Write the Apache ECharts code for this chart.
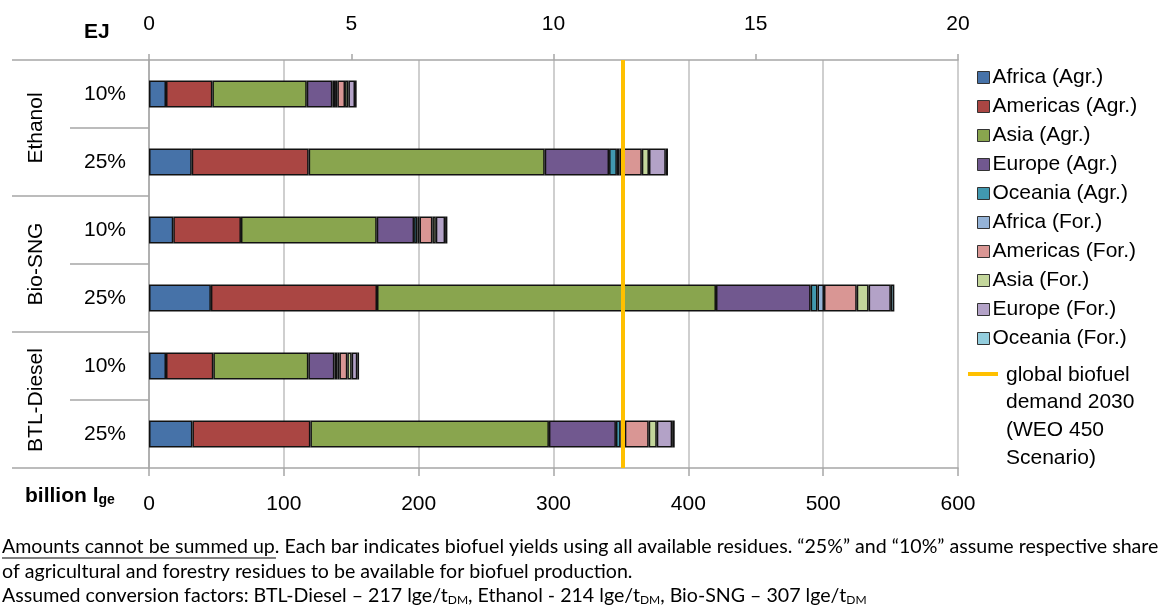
<!DOCTYPE html>
<html>
<head>
<meta charset="utf-8">
<script src="https://cdn.jsdelivr.net/npm/echarts@6/dist/echarts.min.js"></script>
<style>
html,body{margin:0;padding:0;background:#fff;}
#chart{width:1159px;height:608px;}
</style>
</head>
<body>
<div id="chart"></div>
<script>
// ---- Data ----
var groups = ['Ethanol', 'Bio-SNG', 'BTL-Diesel'];
var shares = ['10%', '25%'];
var barIds = ['Ethanol|10%', 'Ethanol|25%', 'Bio-SNG|10%', 'Bio-SNG|25%', 'BTL-Diesel|10%', 'BTL-Diesel|25%'];

var seriesNames = ['Africa (Agr.)', 'Americas (Agr.)', 'Asia (Agr.)', 'Europe (Agr.)', 'Oceania (Agr.)',
                   'Africa (For.)', 'Americas (For.)', 'Asia (For.)', 'Europe (For.)', 'Oceania (For.)'];

// billion litres gasoline equivalent, bars in order of barIds
var africaAgr   = [12.6, 31.7, 18.0, 45.9, 12.6, 32.2];
var americasAgr = [34.4, 86.7, 50.2, 123.2, 35.1, 87.5];
var asiaAgr     = [70.0, 175.1, 100.7, 251.4, 70.5, 176.9];
var europeAgr   = [19.0, 47.7, 27.7, 70.2, 19.3, 49.7];
var oceaniaAgr  = [2.0, 5.8, 2.5, 5.1, 2.2, 3.5];
var africaFor   = [1.7, 1.9, 1.5, 4.8, 1.5, 3.1];
var americasFor = [5.7, 16.6, 9.6, 24.3, 5.9, 17.7];
var asiaFor     = [2.5, 5.3, 2.5, 8.8, 3.2, 6.0];
var europeFor   = [4.9, 12.5, 6.9, 16.5, 4.2, 11.4];
var oceaniaFor  = [1.2, 1.6, 1.7, 2.6, 1.3, 1.9];

var demandName = 'global biofuel\ndemand 2030\n(WEO 450\nScenario)';
var demand2030 = 351;

var bottomTicks = [0, 100, 200, 300, 400, 500, 600];
var topTicksEJ = [0, 5, 10, 15, 20];

// ---- Styles ----
var colors = ['#4672A8', '#AA4643', '#89A54E', '#71588F', '#4198AF',
              '#95B3D7', '#D99694', '#C3D69B', '#B3A2C7', '#93CDDD'];
var seriesData = [africaAgr, americasAgr, asiaAgr, europeAgr, oceaniaAgr,
                  africaFor, americasFor, asiaFor, europeFor, oceaniaFor];
var FONT = "'Liberation Sans', Arial, sans-serif";
var NOTE = "19.6px Lato, sans-serif";
var GRAY = '#A6A6A6';

var chart = echarts.init(document.getElementById('chart'));

var series = seriesNames.map(function (name, i) {
  return {
    name: name,
    type: 'bar',
    stack: 'total',
    barWidth: 27,
    xAxisIndex: 0,
    yAxisIndex: 0,
    data: seriesData[i],
    itemStyle: { color: colors[i], borderColor: '#111', borderWidth: 1.5 },
    emphasis: { disabled: true }
  };
});
series.push({
  name: 'demand',
  type: 'line',
  xAxisIndex: 0,
  yAxisIndex: 0,
  data: [],
  silent: true,
  markLine: {
    silent: true,
    symbol: 'none',
    label: { show: false },
    lineStyle: { color: '#FFC000', width: 4, type: 'solid' },
    data: [{ xAxis: demand2030 }]
  }
});
// dummy series to anchor group axis
series.push({ type: 'scatter', xAxisIndex: 0, yAxisIndex: 1, data: [], silent: true });

var option = {
  animation: false,
  backgroundColor: '#fff',
  grid: { left: 149, right: 201, top: 60, bottom: 140, containLabel: false },
  legend: {
    data: seriesNames,
    orient: 'vertical',
    left: 972,
    top: 61,
    itemWidth: 12,
    itemHeight: 12,
    itemGap: 6,
    selectedMode: false,
    icon: 'rect',
    itemStyle: { borderColor: '#333', borderWidth: 1 },
    textStyle: { fontFamily: FONT, fontSize: 21, color: '#000', lineHeight: 23, padding: [0, 0, 0, -2] }
  },
  xAxis: [
    {
      type: 'value', position: 'bottom', min: 0, max: 600, interval: 100,
      axisLine: { show: true, lineStyle: { color: GRAY, width: 1.5 } },
      axisTick: { show: true, length: 8, lineStyle: { color: GRAY, width: 1.5 } },
      splitLine: { show: true, lineStyle: { color: '#BFBFBF', width: 1.5 } },
      axisLabel: { fontFamily: FONT, fontSize: 21, color: '#000', margin: 26 }
    },
    {
      type: 'value', position: 'top', min: 0, max: 20, interval: 5,
      axisLine: { show: true, lineStyle: { color: GRAY, width: 1.5 } },
      axisTick: { show: true, length: 6, lineStyle: { color: GRAY, width: 1.5 } },
      splitLine: { show: false },
      axisLabel: { fontFamily: FONT, fontSize: 21, color: '#000', margin: 25 }
    }
  ],
  yAxis: [
    {
      type: 'category', data: barIds, inverse: true, position: 'left',
      axisLine: { show: true, lineStyle: { color: GRAY, width: 1.5 } },
      axisTick: { show: true, length: 79, interval: 0, lineStyle: { color: GRAY, width: 1.5 } },
      axisLabel: {
        interval: 0, margin: 23, fontFamily: FONT, fontSize: 21, color: '#000',
        formatter: function (v) { return v.split('|')[1]; }
      }
    },
    {
      type: 'category', data: groups, inverse: true, position: 'left',
      axisLine: { show: false },
      axisTick: { show: true, length: 137, interval: 0, lineStyle: { color: GRAY, width: 1.5 } },
      axisLabel: { interval: 0, rotate: 90, margin: 102, fontFamily: FONT, fontSize: 21, color: '#000' }
    }
  ],
  series: series,
  graphic: [
    { type: 'text', left: 84, top: 22, style: { text: 'EJ', font: 'bold 21px ' + FONT, fill: '#000' } },
    { type: 'text', left: 25, top: 486, style: {
        text: '{b|billion l}{s|ge}',
        rich: {
          b: { font: 'bold 21px ' + FONT, fill: '#000', lineHeight: 26, verticalAlign: 'bottom' },
          s: { font: 'bold 14px ' + FONT, fill: '#000', lineHeight: 22, verticalAlign: 'bottom' }
        }
    } },
    { type: 'line', shape: { x1: 968, y1: 374, x2: 998, y2: 374 }, style: { stroke: '#FFC000', lineWidth: 4 } },
    { type: 'text', left: 1006, top: 361, style: { text: demandName, font: '21px ' + FONT, fill: '#000', lineHeight: 27.8 } },
    { type: 'text', left: 2, top: 537, style: {
        text: 'Amounts cannot be summed up. Each bar indicates biofuel yields using all available residues. \u201c25%\u201d and \u201c10%\u201d assume respective shares',
        font: NOTE, fill: '#000' } },
    { type: 'line', shape: { x1: 2, y1: 558, x2: 276, y2: 558 }, style: { stroke: '#000', lineWidth: 1.2 } },
    { type: 'text', left: 2, top: 562, style: {
        text: 'of agricultural and forestry residues to be available for biofuel production.',
        font: NOTE, fill: '#000' } },
    { type: 'text', left: 2, top: 586, style: {
        text: '{n|Assumed conversion factors: BTL-Diesel \u2013 217 lge/t}{s|DM}{n|, Ethanol - 214 lge/t}{s|DM}{n|, Bio-SNG \u2013 307 lge/t}{s|DM}',
        rich: {
          n: { font: NOTE, fill: '#000', lineHeight: 24, verticalAlign: 'bottom' },
          s: { font: '12px Lato, sans-serif', fill: '#000', lineHeight: 20, verticalAlign: 'bottom' }
        }
    } }
  ]
};
chart.setOption(option);
</script>
</body>
</html>
